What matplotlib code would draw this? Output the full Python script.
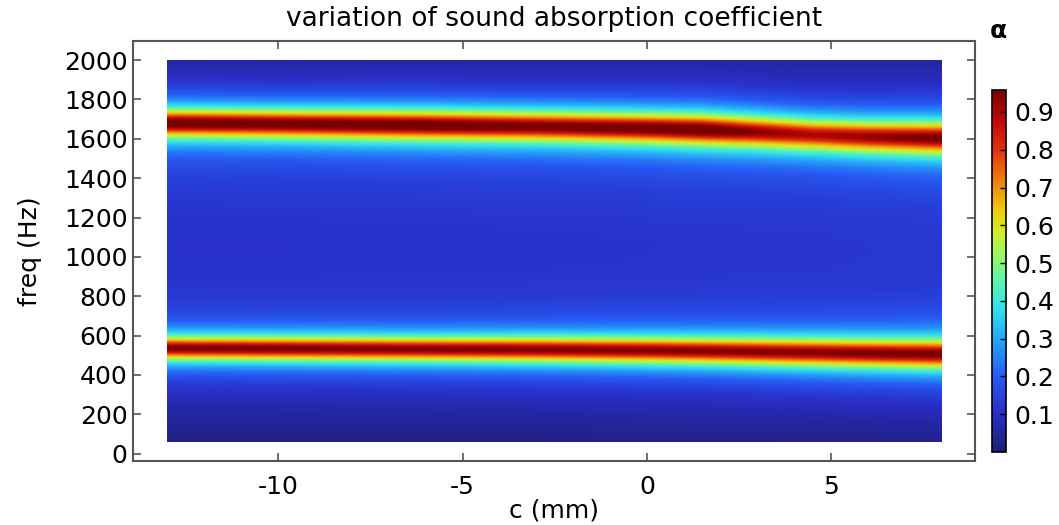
import numpy as np
import matplotlib
matplotlib.use("Agg")
import matplotlib.pyplot as plt
from matplotlib.colors import LinearSegmentedColormap

# parameter sweep c (mm) and frequency range (Hz)
c_min, c_max = -13.0, 8.0
f_min, f_max = 60.0, 2000.0

# resonance bands at several c positions
c_pts = [-13, -10, -6, -3, 0, 1.5, 3, 4.5, 6, 8]
f_high = [1681, 1677, 1670, 1664, 1655, 1648, 1636, 1622, 1612, 1605]
a_high = [0.95, 0.94, 0.955, 0.92, 0.94, 0.955, 0.88, 0.83, 0.86, 0.91]
w_high = [67, 68, 70, 72, 73, 74, 76, 77, 77, 78]
f_low = [535, 533, 530, 528, 524, 521, 517, 513, 509, 505]
a_low = [0.89, 0.89, 0.88, 0.88, 0.88, 0.88, 0.88, 0.88, 0.89, 0.90]
w_low = [56, 57, 58, 60, 62, 63, 65, 67, 68, 70]

# background absorption away from the bands
base_f = [60, 200, 400, 700, 1000, 1300, 1500, 1800, 2000]
base_a = [0.01, 0.03, 0.06, 0.08, 0.09, 0.09, 0.08, 0.04, 0.02]

vmin, vmax = 0.0, 0.958
cbar_ticks = [0.1, 0.2, 0.3, 0.4, 0.5, 0.6, 0.7, 0.8, 0.9]


def resonance(f, f0, a, w):
    return a / (1 + ((f - f0) / w) ** 2)


c = np.linspace(c_min, c_max, 211)
f = np.linspace(f_min, f_max, 389)
C, F = np.meshgrid(c, f)

alpha = np.interp(F, base_f, base_a)
alpha = alpha + resonance(F, np.interp(C, c_pts, f_high),
                          np.interp(C, c_pts, a_high), np.interp(C, c_pts, w_high))
alpha = alpha + resonance(F, np.interp(C, c_pts, f_low),
                          np.interp(C, c_pts, a_low), np.interp(C, c_pts, w_low))
alpha = np.clip(alpha, vmin, vmax)

# rainbow map similar to the one in the reference
cmap_pts = [
    (0.00, (0.12, 0.12, 0.45)),
    (0.10, (0.16, 0.18, 0.78)),
    (0.20, (0.15, 0.36, 0.96)),
    (0.30, (0.15, 0.66, 0.98)),
    (0.38, (0.20, 0.88, 0.92)),
    (0.45, (0.36, 0.95, 0.70)),
    (0.52, (0.60, 0.97, 0.40)),
    (0.58, (0.82, 0.93, 0.15)),
    (0.64, (0.93, 0.80, 0.05)),
    (0.72, (0.93, 0.50, 0.05)),
    (0.80, (0.88, 0.20, 0.05)),
    (0.88, (0.76, 0.03, 0.02)),
    (0.958, (0.48, 0.00, 0.00)),
]
cmap = LinearSegmentedColormap.from_list(
    "rainbow_c", [(v / vmax, col) for v, col in cmap_pts])

fig = plt.figure(figsize=(10.59, 5.25), dpi=100)
ax = fig.add_axes([0.1256, 0.1219, 0.7951, 0.8])

im = ax.imshow(alpha, extent=[c_min, c_max, f_min, f_max], origin="lower",
               aspect="auto", cmap=cmap, vmin=vmin, vmax=vmax,
               interpolation="bilinear")

ax.set_xlim(-13.93, 8.89)
ax.set_ylim(-37, 2097)
ax.set_xticks([-10, -5, 0, 5])
ax.set_xticklabels(["-10", "-5", "0", "5"])
ax.set_yticks(range(0, 2001, 200))

ax.tick_params(direction="in", length=6, width=1.2, color="#555555",
               labelsize=18, top=True, right=True)
ax.tick_params(axis="x", pad=10)
ax.tick_params(axis="y", pad=4)
for sp in ax.spines.values():
    sp.set_color("#555555")
    sp.set_linewidth(1.5)

ax.set_xlabel("c (mm)", fontsize=18, labelpad=0)
ax.set_ylabel("freq (Hz)", fontsize=18, labelpad=16)
ax.set_title("variation of sound absorption coefficient", fontsize=19, pad=11)

cax = fig.add_axes([0.9367, 0.139, 0.0132, 0.6895])
cb = fig.colorbar(im, cax=cax, ticks=cbar_ticks)
cb.outline.set_linewidth(1.2)
cax.tick_params(direction="in", length=4, width=1, labelsize=18, pad=6)
cax.set_yticklabels([str(t) for t in cbar_ticks])
fig.text(0.9425, 0.94, "α", fontsize=18, fontweight="bold", ha="center", va="center")

fig.savefig("out.png", dpi=100)
